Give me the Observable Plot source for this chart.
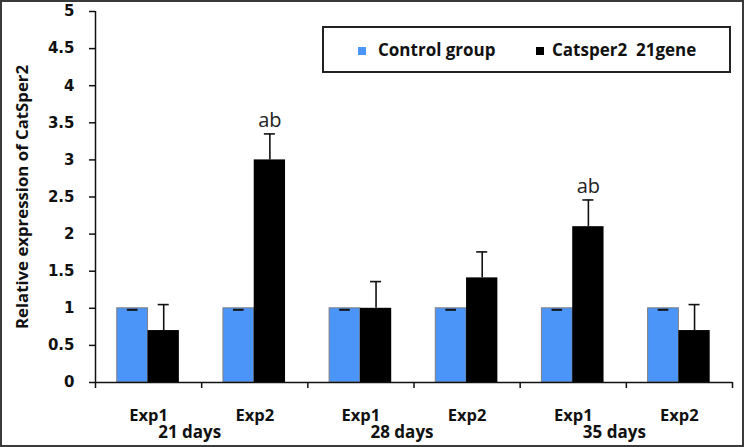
<!DOCTYPE html>
<html><head><meta charset="utf-8">
<script src="https://cdn.jsdelivr.net/npm/d3@7"></script>
<script src="https://cdn.jsdelivr.net/npm/@observablehq/plot@0.6"></script>
<style>
html,body{margin:0;padding:0;background:#fff;}
#wrap{position:relative;width:744px;height:447px;overflow:hidden;background:#fff;}
#wrap svg{display:block;}
#border{position:absolute;left:0;top:0;width:744px;height:447px;box-sizing:border-box;border:2px solid #3a3a3a;pointer-events:none;}
#legend{position:absolute;left:322px;top:26px;width:409px;height:47px;box-sizing:border-box;border:2px solid #222;background:#fff;font-family:"Open Sans",sans-serif;font-weight:700;font-size:17px;color:#111;}
.sw{position:absolute;width:8px;height:8px;top:19px;}
.lt{position:absolute;top:11px;white-space:pre;line-height:22px;}
</style></head><body><div id="wrap"></div><script>
const groups = ["Exp1","Exp2","Exp1","Exp2","Exp1","Exp2"];
const periods = ["21 days","28 days","35 days"];
const series = ["Control group","Catsper2  21gene"];
const control = [1,1,1,1,1,1];
const controlErr = [0,0,0,0,0,0];
const catsper = [0.7,3.0,1.0,1.41,2.1,0.7];
const catsperErr = [0.35,0.35,0.36,0.35,0.36,0.35];
const sigMarks = ["","ab","","","ab",""];
const yTicks = [0,0.5,1,1.5,2,2.5,3,3.5,4,4.5,5];
const xBoundaries = [0,1,2,3,4,5,6];
const yLabel = "Relative expression of CatSper2";
const colors = ["#4b94f8","#000000"];

const rows = groups.map((g,i)=>({i, group:g, control:control[i], cErr:controlErr[i], catsper:catsper[i], tErr:catsperErr[i], mark:sigMarks[i]}));
const L = 0.205, M = 0.495, R = 0.79;
const cC = (L+M)/2, cT = (M+R)/2;

const plot = Plot.plot({
  width:744, height:447, marginLeft:95, marginRight:12, marginTop:11, marginBottom:65,
  style:{fontFamily:"'Open Sans', sans-serif", fontWeight:700, fontSize:"15px", color:"#111", background:"transparent", overflow:"visible"},
  x:{domain:[0,6], axis:null},
  y:{domain:[0,5], axis:null},
  marks:[
    Plot.rectY(rows,{x1:d=>d.i+L, x2:d=>d.i+M, y1:0, y2:"control", fill:colors[0], stroke:"#808080", strokeWidth:1}),
    Plot.rectY(rows,{x1:d=>d.i+M, x2:d=>d.i+R, y1:0, y2:"catsper", fill:colors[1]}),
    Plot.ruleY(rows,{y:d=>d.control+d.cErr, x1:d=>d.i+cC-0.05, x2:d=>d.i+cC+0.05, stroke:"#111", strokeWidth:2, dy:1.5}),
    Plot.ruleX(rows,{x:d=>d.i+cT, y1:"catsper", y2:d=>d.catsper+d.tErr, stroke:"#111", strokeWidth:1.6}),
    Plot.ruleY(rows,{y:d=>d.catsper+d.tErr, x1:d=>d.i+cT-0.052, x2:d=>d.i+cT+0.052, stroke:"#111", strokeWidth:1.6}),
    Plot.text(rows.filter(d=>d.mark),{x:d=>d.i+cT, y:d=>d.catsper+d.tErr, text:"mark", lineAnchor:"bottom", dy:-7, fontWeight:400, fontSize:20, fill:"#222"}),
    Plot.ruleX([0],{stroke:"#111", strokeWidth:1.5}),
    Plot.ruleY([0],{stroke:"#111", strokeWidth:1.5}),
    Plot.axisY({ticks:yTicks, tickSize:6, tickPadding:15, tickFormat:d=>String(d), label:null, stroke:"#111", strokeWidth:1.5}),
    Plot.axisX({ticks:xBoundaries, tickSize:6, tickFormat:()=>"", label:null, stroke:"#111", strokeWidth:1.5}),
    Plot.text(rows,{x:d=>d.i+0.5, text:"group", frameAnchor:"bottom", lineAnchor:"top", dy:27, fontSize:16.5}),
    Plot.text(periods,{x:(d,i)=>2*i+1, text:d=>d, frameAnchor:"bottom", lineAnchor:"top", dy:43, dx:-12, fontSize:17}),
    Plot.text([yLabel],{text:d=>d, frameAnchor:"left", textAnchor:"middle", rotate:-90, dx:-73, fontSize:16.8})
  ]
});
// y tick labels in a wider bold face
d3.select(plot).selectAll('g[aria-label^="y-axis tick label"]')
  .attr("font-family", "'DejaVu Sans', sans-serif").attr("font-size", 15).attr("font-weight", 700)
  .selectAll("text").style("font-family", "'DejaVu Sans', sans-serif").style("font-size", "15px");
const wrap = document.getElementById("wrap");
wrap.appendChild(plot);
const leg = document.createElement("div");
leg.id = "legend";
leg.innerHTML = `<div class="sw" style="left:34px;background:${colors[0]}"></div><div class="lt" style="left:54px">${series[0]}</div><div class="sw" style="left:212px;background:${colors[1]}"></div><div class="lt" style="left:228px">${series[1]}</div>`;
wrap.appendChild(leg);
const b = document.createElement("div"); b.id="border"; wrap.appendChild(b);
</script></body></html>
